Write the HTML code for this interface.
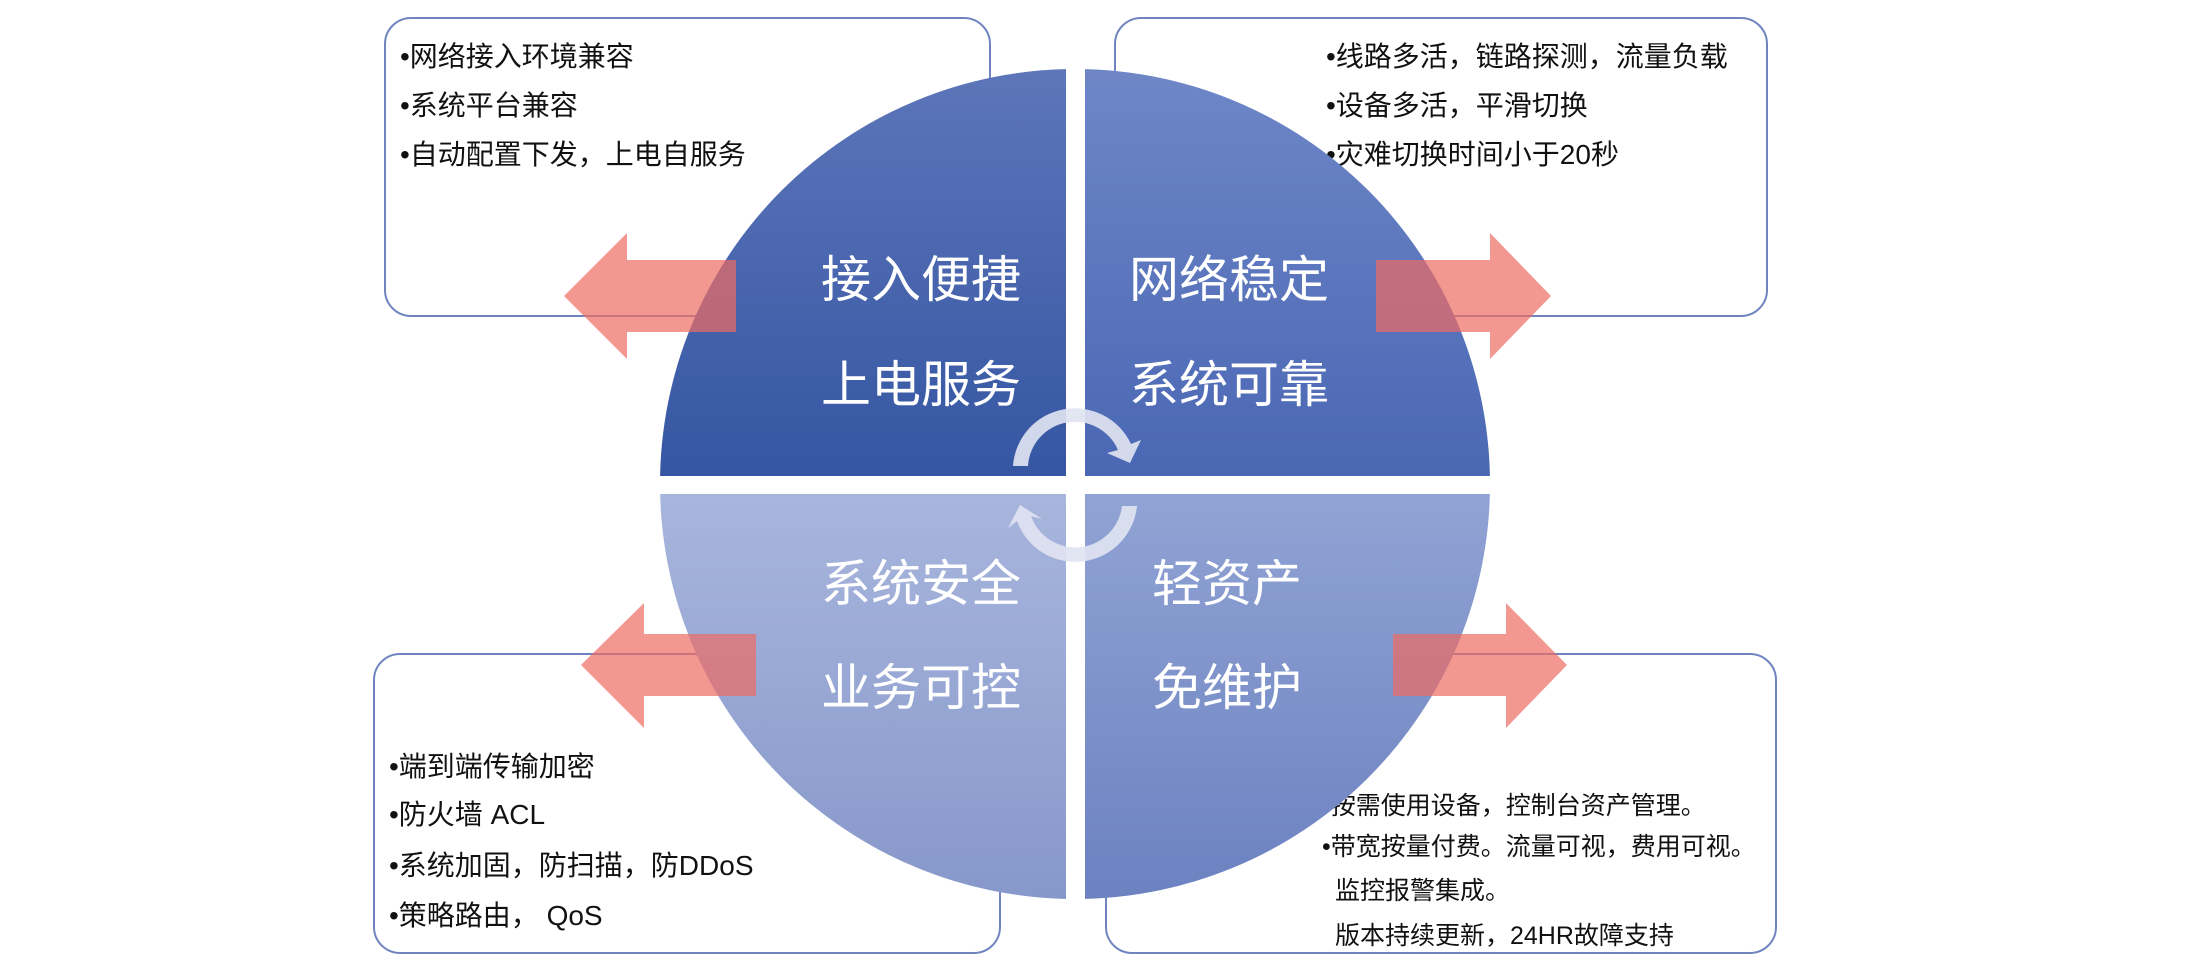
<!DOCTYPE html>
<html><head><meta charset="utf-8"><style>
html,body{margin:0;padding:0;background:#fff;}
svg{display:block;}
text{font-family:"Liberation Sans","Noto Sans CJK SC",sans-serif;}
</style></head><body>
<svg width="2190" height="964" viewBox="0 0 2190 964" xmlns="http://www.w3.org/2000/svg">
<defs>
<linearGradient id="gTL" x1="0" y1="0" x2="0" y2="1"><stop offset="0" stop-color="#6078bb"/><stop offset="1" stop-color="#3556a3"/></linearGradient>
<linearGradient id="gTR" x1="0" y1="0" x2="0" y2="1"><stop offset="0" stop-color="#7189c8"/><stop offset="1" stop-color="#4a67b4"/></linearGradient>
<linearGradient id="gBL" x1="0" y1="0" x2="0" y2="1"><stop offset="0" stop-color="#a8b6dd"/><stop offset="1" stop-color="#8596c9"/></linearGradient>
<linearGradient id="gBR" x1="0" y1="0" x2="0" y2="1"><stop offset="0" stop-color="#91a3d4"/><stop offset="1" stop-color="#6a80c0"/></linearGradient>
<clipPath id="circ"><circle cx="1075" cy="484" r="415"/></clipPath>
</defs>
<g fill="#fff" stroke="#7085c0" stroke-width="2">
<rect x="385" y="18" width="605" height="298" rx="26"/>
<rect x="1115" y="18" width="652" height="298" rx="26"/>
<rect x="374" y="654" width="626" height="299" rx="26"/>
<rect x="1106" y="654" width="670" height="299" rx="26"/>
</g>
<g font-size="28" fill="#111">
<text x="400" y="66">•网络接入环境兼容</text>
<text x="400" y="115">•系统平台兼容</text>
<text x="400" y="164">•自动配置下发，上电自服务</text>
<text x="1326" y="66">•线路多活，链路探测，流量负载</text>
<text x="1326" y="115">•设备多活，平滑切换</text>
<text x="1326" y="164">•灾难切换时间小于20秒</text>
<text x="389" y="776">•端到端传输加密</text>
<text x="389" y="824">•防火墙 ACL</text>
<text x="389" y="875">•系统加固，防扫描，防DDoS</text>
<text x="389" y="925">•策略路由， QoS</text>
</g>
<g font-size="25" fill="#111">
<text x="1322" y="814">•按需使用设备，控制台资产管理。</text>
<text x="1322" y="855">•带宽按量付费。流量可视，费用可视。</text>
<text x="1335" y="899">监控报警集成。</text>
<text x="1335" y="944">版本持续更新，24HR故障支持</text>
</g>
<g clip-path="url(#circ)">
<rect x="600" y="40" width="466" height="436" fill="url(#gTL)"/>
<rect x="1085" y="40" width="466" height="436" fill="url(#gTR)"/>
<rect x="600" y="494" width="466" height="420" fill="url(#gBL)"/>
<rect x="1085" y="494" width="466" height="420" fill="url(#gBR)"/>
</g>
<g fill="#ee6b63" fill-opacity="0.7">
<polygon points="564,296 627,233 627,260 736,260 736,332 627,332 627,359"/>
<polygon points="1551,296 1490,233 1490,260 1376,260 1376,332 1490,332 1490,359"/>
<polygon points="581,665 644,603 644,634 756,634 756,696 644,696 644,728"/>
<polygon points="1567,665 1506,603 1506,634 1393,634 1393,696 1506,696 1506,728"/>
</g>
<g font-size="50" fill="#fff">
<text x="821" y="297">接入便捷</text>
<text x="821" y="402">上电服务</text>
<text x="1129" y="297">网络稳定</text>
<text x="1129" y="402">系统可靠</text>
<text x="821" y="601">系统安全</text>
<text x="821" y="705">业务可控</text>
<text x="1152" y="601">轻资产</text>
<text x="1152" y="705">免维护</text>
</g>
<g fill="#dfe3f1" fill-opacity="0.92">
<path d="M1013,466 A62,62 0 0 1 1131,444 L1141,440 L1130,463 L1107,453 L1118,450 A47,47 0 0 0 1028,466 Z"/>
<path d="M1137,506 A62,62 0 0 1 1017,521 L1008,528 L1020,505 L1042,519 L1031,516 A47,47 0 0 0 1122,506 Z"/>
</g>
</svg>
</body></html>
